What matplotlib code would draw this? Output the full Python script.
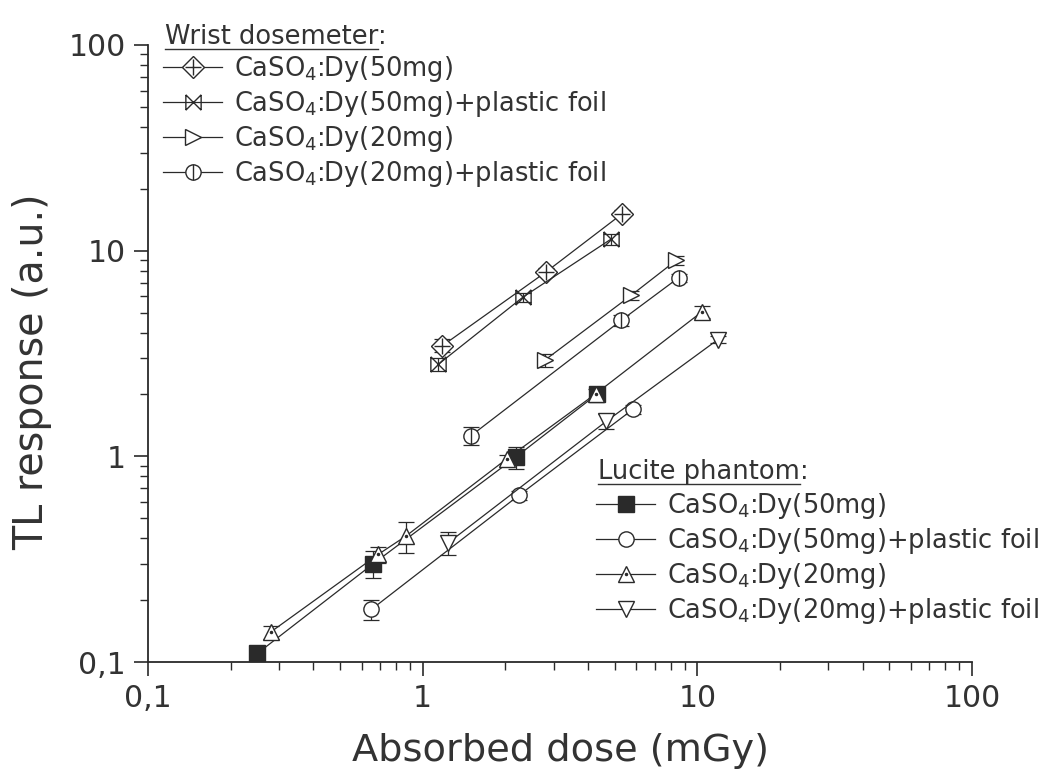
import matplotlib
matplotlib.use("Agg")
import matplotlib.pyplot as plt
from matplotlib.lines import Line2D
from matplotlib.path import Path
from matplotlib.legend_handler import HandlerTuple
from matplotlib.ticker import FixedLocator, FixedFormatter, LogLocator, NullFormatter

plt.rcParams['font.family'] = ['DejaVu Sans']
plt.rcParams['mathtext.fontset'] = 'dejavusans'

# ---- data ----
wrist50_x = [1.18, 2.82, 5.32]
wrist50_y = [3.45, 7.9, 15.1]
wrist50_e = [0.25, 0.35, 0.6]

wrist50f_x = [1.14, 2.32, 4.86]
wrist50f_y = [2.8, 5.95, 11.4]
wrist50f_e = [0.2, 0.3, 0.7]

wrist20_x = [2.78, 5.74, 8.37]
wrist20_y = [2.93, 6.06, 8.97]
wrist20_e = [0.2, 0.3, 0.45]

wrist20f_x = [1.50, 5.28, 8.55]
wrist20f_y = [1.26, 4.58, 7.39]
wrist20f_e = [0.13, 0.3, 0.35]

luc50_x = [0.25, 0.66, 2.18, 4.30]
luc50_y = [0.11, 0.30, 0.99, 2.0]
luc50_e = [0.006, 0.045, 0.12, 0.1]

luc50f_x = [0.65, 2.24, 5.82]
luc50f_y = [0.18, 0.646, 1.69]
luc50f_e = [0.02, 0.03, 0.08]

luc20_x = [0.28, 0.69, 0.87, 2.02, 4.28, 10.4]
luc20_y = [0.14, 0.334, 0.41, 0.97, 2.02, 5.05]
luc20_e = [0.01, 0.03, 0.07, 0.05, 0.1, 0.35]

luc20f_x = [1.24, 4.66, 11.86]
luc20f_y = [0.38, 1.48, 3.69]
luc20f_e = [0.05, 0.12, 0.15]

labels = [r'CaSO$_4$:Dy(50mg)', r'CaSO$_4$:Dy(50mg)+plastic foil',
          r'CaSO$_4$:Dy(20mg)', r'CaSO$_4$:Dy(20mg)+plastic foil']
tick_vals = [0.1, 1, 10, 100]
tick_labels = ['0,1', '1', '10', '100']

# ---- figure ----
W, H = 1060, 783
fig = plt.figure(figsize=(W / 100, H / 100), dpi=100)
ax = fig.add_axes([148 / W, 1 - 662 / H, (972 - 148) / W, (662 - 45) / H])
ax.set_xscale('log')
ax.set_yscale('log')
ax.set_xlim(0.1, 100)
ax.set_ylim(0.1, 100)

C = '#2a2a2a'
lw = 0.9
ms = 11

bowtie = Path([(-1, -1), (1, 1), (-1, 1), (1, -1), (-1, -1), (-1, 1), (1, -1), (1, 1)],
              [Path.MOVETO, Path.LINETO, Path.MOVETO, Path.LINETO,
               Path.MOVETO, Path.LINETO, Path.MOVETO, Path.LINETO])


def series(x, y, e, marker, face='white', extra=None, extra_ms=None, z=3):
    ax.errorbar(x, y, yerr=e, fmt='none', ecolor=C, elinewidth=lw, capsize=6, capthick=lw, zorder=2)
    ax.plot(x, y, color=C, lw=lw, marker=marker, ms=ms, mfc=face, mec=C, mew=1.0, zorder=z)
    h = Line2D([], [], color=C, lw=lw, marker=marker, ms=ms, mfc=face, mec=C, mew=1.0)
    if extra is not None:
        ax.plot(x, y, ls='none', marker=extra, ms=extra_ms or ms, mec=C, mfc=C, mew=1.0, zorder=z + 0.5)
        h2 = Line2D([], [], ls='none', marker=extra, ms=extra_ms or ms, mec=C, mfc=C, mew=1.0)
        return (h, h2)
    return h


hw1 = series(wrist50_x, wrist50_y, wrist50_e, 'D', extra='+', extra_ms=ms * 1.05)
hw2 = series(wrist50f_x, wrist50f_y, wrist50f_e, bowtie)
hw3 = series(wrist20_x, wrist20_y, wrist20_e, '>')
hw4 = series(wrist20f_x, wrist20f_y, wrist20f_e, 'o', extra='|', extra_ms=ms)

hl1 = series(luc50_x, luc50_y, luc50_e, 's', face=C, z=3)
hl2 = series(luc50f_x, luc50f_y, luc50f_e, 'o', z=3)
hl3 = series(luc20_x, luc20_y, luc20_e, '^', extra='.', extra_ms=3, z=5)
hl4 = series(luc20f_x, luc20f_y, luc20f_e, 'v', z=3)

# ---- axes styling ----
for s in ['top', 'right']:
    ax.spines[s].set_visible(False)
for s in ['left', 'bottom']:
    ax.spines[s].set_linewidth(1.3)
    ax.spines[s].set_color(C)

for axis in (ax.xaxis, ax.yaxis):
    axis.set_major_locator(FixedLocator(tick_vals))
    axis.set_major_formatter(FixedFormatter(tick_labels))
    axis.set_minor_locator(LogLocator(base=10, subs=range(2, 10)))
    axis.set_minor_formatter(NullFormatter())
ax.tick_params(which='major', direction='out', length=10, width=1.2, color=C,
               labelsize=21.5, labelcolor='#333333', pad=6)
ax.tick_params(which='minor', direction='out', length=6, width=1.0, color=C)

ax.set_xlabel('Absorbed dose (mGy)', fontsize=27.5, color='#333333', labelpad=14)
ax.set_ylabel('TL response (a.u.)', fontsize=28.5, color='#333333')
ax.yaxis.set_label_coords(-0.116, 0.47)

# ---- legends ----
leg_kw = dict(frameon=False, fontsize=18.5, handlelength=2.3, handletextpad=0.45,
              borderpad=0, borderaxespad=0, labelspacing=0.19, numpoints=1,
              handler_map={tuple: HandlerTuple(ndivide=1, pad=0)}, labelcolor='#333333')

leg1 = ax.legend([hw1, hw2, hw3, hw4], labels, loc='upper left',
                 bbox_to_anchor=(163 / W, 1 - 54 / H), bbox_transform=fig.transFigure, **leg_kw)
ax.add_artist(leg1)
leg2 = ax.legend([hl1, hl2, hl3, hl4], labels, loc='upper left',
                 bbox_to_anchor=(596 / W, 1 - 491 / H), bbox_transform=fig.transFigure, **leg_kw)

t1 = fig.text(165 / W, 1 - 37 / H, 'Wrist dosemeter', fontsize=18.5, color='#333333', va='center', ha='left')
t2 = fig.text(598 / W, 1 - 472 / H, 'Lucite phantom', fontsize=18.5, color='#333333', va='center', ha='left')

fig.canvas.draw()
r = fig.canvas.get_renderer()
for t in (t1, t2):
    bb = t.get_window_extent(r)
    fig.text(bb.x1 / W, t.get_position()[1], ':', fontsize=18.5, color='#333333', va='center', ha='left')
    yline = (bb.y0 + 1) / H
    fig.add_artist(Line2D([bb.x0 / W, bb.x1 / W], [yline, yline], transform=fig.transFigure,
                          color='#333333', lw=1.0))

fig.savefig('out.png', dpi=100)
